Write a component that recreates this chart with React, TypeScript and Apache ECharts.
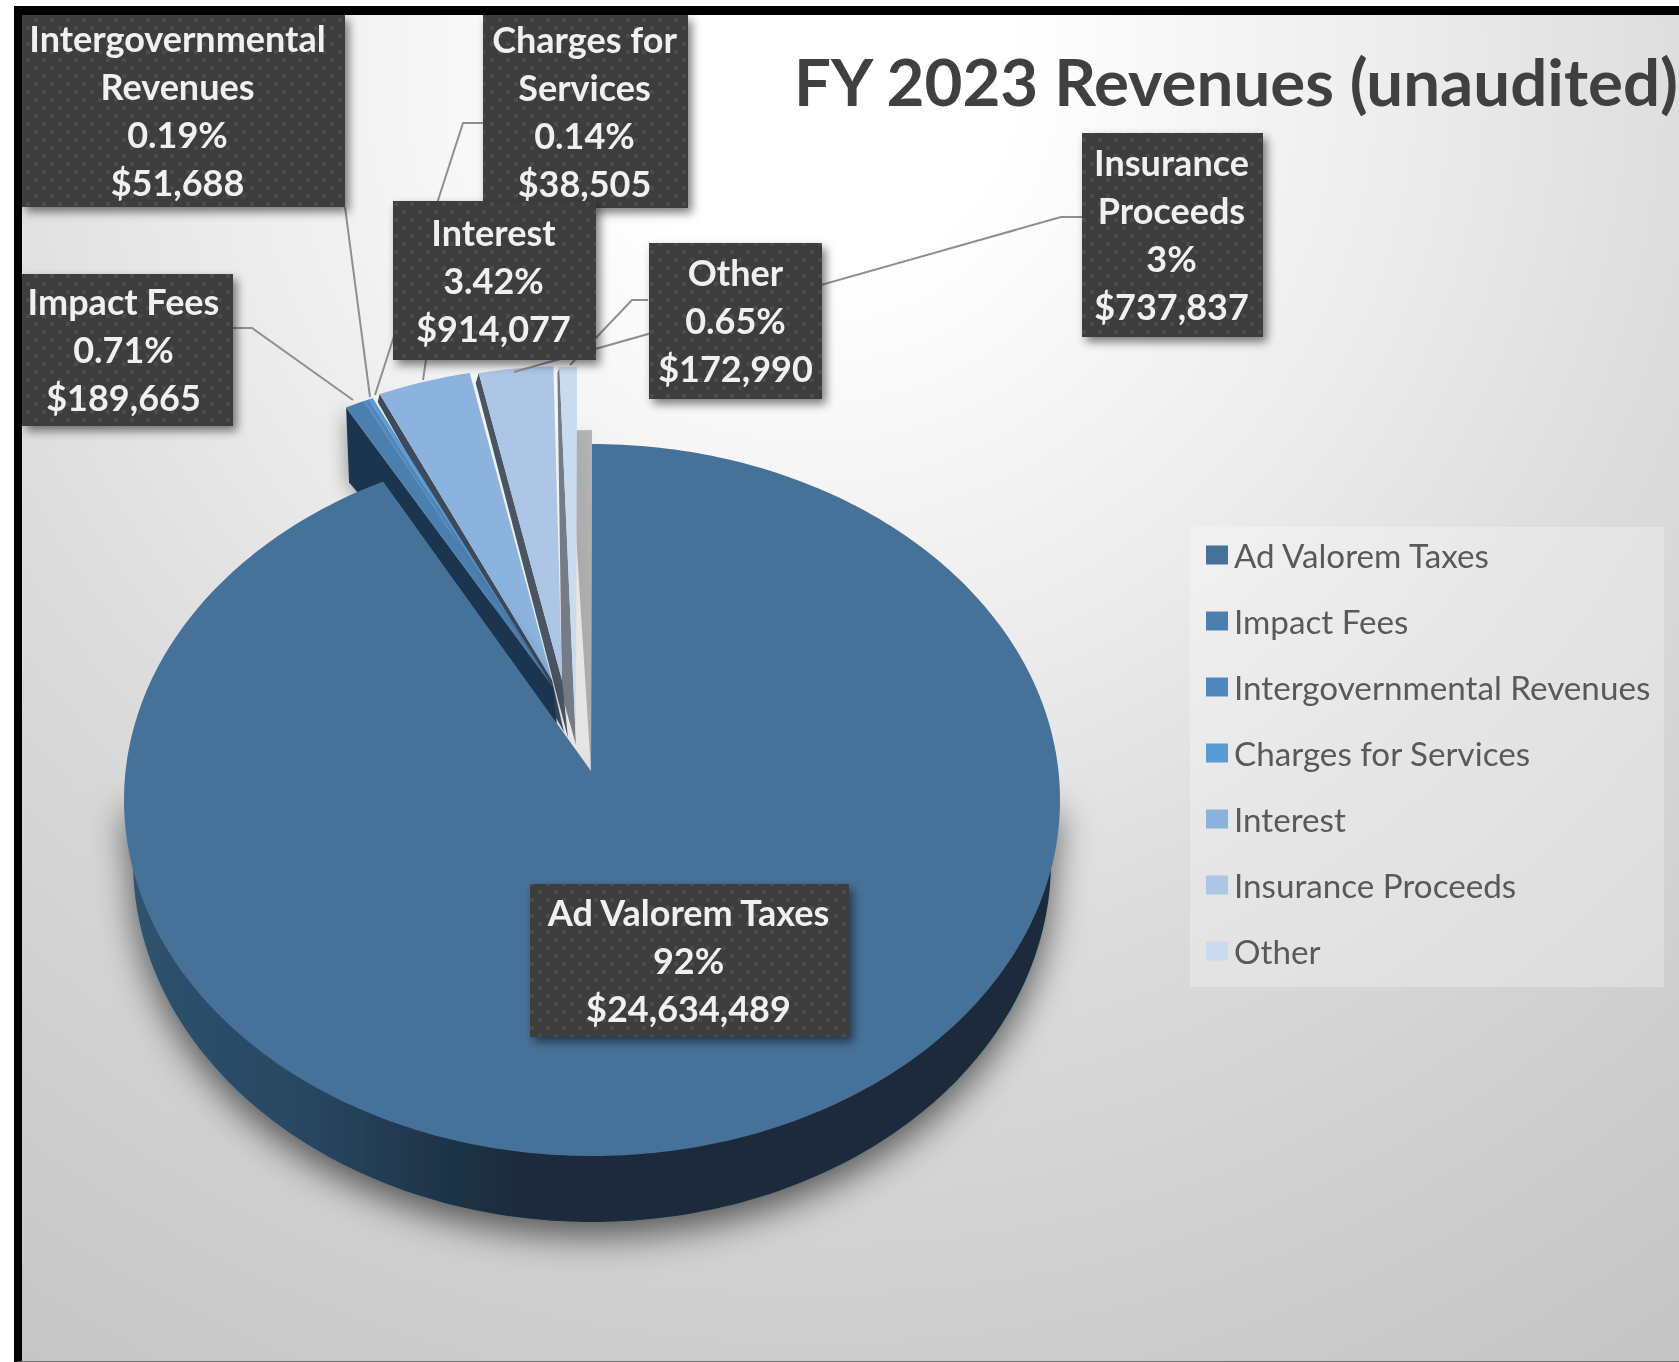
import React, { useEffect, useRef } from "react";
import * as echarts from "echarts";

const TITLE = "FY 2023 Revenues (unaudited)";
const categories = ["Ad Valorem Taxes", "Impact Fees", "Intergovernmental Revenues", "Charges for Services", "Interest", "Insurance Proceeds", "Other"];
const revenueValues = [24634489, 189665, 51688, 38505, 914077, 737837, 172990];
const percentLabels = ["92%", "0.71%", "0.19%", "0.14%", "3.42%", "3%", "0.65%"];
const dollarLabels = ["$24,634,489", "$189,665", "$51,688", "$38,505", "$914,077", "$737,837", "$172,990"];
const wrappedNames = ["Ad Valorem Taxes", "Impact Fees", "Intergovernmental\nRevenues", "Charges for\nServices", "Interest", "Insurance\nProceeds", "Other"];
const sliceColors = ["#467199", "#4b80ae", "#5088bd", "#5b9bd5", "#8bb3dd", "#adc6e6", "#c9dbef"];

// exploded-slice geometry: [rim dx, rim dy, apex x offset, apex y offset from the pie apex]
const explode = [
  [0, 0, 0, 0],
  [-37, -74, -38, -84],
  [-37, -74, -38, -84],
  [-37, -74, -38, -84],
  [-30, -78, -39, -91],
  [-21, -78, -29, -91],
  [-15, -77, -15, -26],
];
const wallColors = ["", "#1f3650", "#1f3650", "#1f3650", "#3d4a5a", "#4a5563", "#757c86"];
const wallDepth = [
  [0, 0, 0, 0],
  [3, 75, 4, 38],
  [0, 0, 0, 0],
  [0, 0, 0, 0],
  [-2, 8, 12, 52],
  [-3, 10, 6, 58],
  [-2, 6, -14, -50],
];

// label boxes: [x, y, w, h]
const labelBoxes = [
  [530, 884, 319, 153],
  [22, 274, 211, 152],
  [22, 15, 323, 192],
  [483, 15, 205, 193],
  [393, 201, 203, 159],
  [1082, 133, 181, 204],
  [649, 243, 173, 156],
];
const labelTextShift = [0, -3, -5, 0, 0, 0, 1];
const leaderLines = [
  [[1082, 217], [1061, 217], [514, 372]],
  [[648, 300], [632, 300], [570, 365]],
  [[483, 123], [463, 123], [375, 395]],
  [[345, 207], [370, 397]],
  [[233, 328], [252, 328], [353, 400]],
  [[426, 360], [423, 380]],
];

const CX = 592, CY = 800, RX = 468, RY = 356, APEX_X = 591, APEX_Y = 771;
const SIDE_CY = 862, SIDE_RX = 459, SIDE_RY = 360;
const K = 0.925;
const TOTAL = revenueValues.reduce((a, b) => a + b, 0);

const toParam = (deg: number) => {
  const r = (deg * Math.PI) / 180;
  let p = Math.atan2(Math.sin(r) * K, Math.cos(r));
  if (p < 0) p += Math.PI * 2;
  return p;
};
const rim = (deg: number, dx = 0, dy = 0): number[] => {
  const p = deg >= 360 ? 0 : toParam(deg);
  return [CX + RX * Math.sin(p) + dx, CY - RY * Math.cos(p) + dy];
};
const starts: number[] = [];
revenueValues.reduce((acc, v, i) => {
  starts[i] = acc;
  return acc + (v / TOTAL) * 360;
}, 0);
const ends = starts.map((s, i) => s + (revenueValues[i] / TOTAL) * 360);

const arc = (a0: number, a1: number, dx: number, dy: number) => {
  const pts: number[][] = [];
  const n = Math.max(2, Math.ceil((a1 - a0) / 1));
  for (let i = 0; i <= n; i++) pts.push(rim(a0 + ((a1 - a0) * i) / n, dx, dy));
  return pts;
};
const facePoints = (i: number) => {
  const [dx, dy, ax, ay] = explode[i];
  return [[APEX_X + ax, APEX_Y + ay], ...arc(starts[i], ends[i], dx, dy)];
};

const renderSlice = (i: number) => () => {
  const [dx, dy, ax, ay] = explode[i];
  const children: any[] = [];
  const [d2x, d2y, d1x, d1y] = wallDepth[i];
  if (wallColors[i] && (d1y || d2y)) {
    const p = rim(starts[i], dx, dy);
    const a = [APEX_X + ax, APEX_Y + ay];
    children.push({
      type: "polygon",
      shape: { points: [p, a, [a[0] + d1x, a[1] + d1y], [p[0] + d2x, p[1] + d2y]] },
      style: i === 1
        ? { fill: wallColors[i], shadowBlur: 18, shadowOffsetX: -2, shadowColor: "rgba(0,0,0,0.35)" }
        : { fill: wallColors[i] },
    });
  }
  children.push({ type: "polygon", shape: { points: facePoints(i) }, style: { fill: sliceColors[i] } });
  return { type: "group", children };
};

const renderBase = () => {
  const side: number[][] = [];
  for (let d = 90; d <= 270; d += 1) {
    const r = (d * Math.PI) / 180;
    side.push([CX + SIDE_RX * Math.sin(r), SIDE_CY - SIDE_RY * Math.cos(r)]);
  }
  side.push([CX - RX, CY], [APEX_X, APEX_Y + 6], [CX + RX, CY]);
  return {
    type: "group",
    children: [
      {
        type: "polygon",
        shape: { points: [[APEX_X, APEX_Y], rim(357, 0, -14), rim(0, 0, -14), rim(0, 0, 0)] },
        style: { fill: "rgba(0,0,0,0.25)", shadowBlur: 14, shadowOffsetX: -4, shadowColor: "rgba(0,0,0,0.2)" },
      },
      {
        type: "polygon",
        shape: { points: side },
        style: {
          fill: new echarts.graphic.LinearGradient(0, 0, 1, 0, [
            { offset: 0, color: "#2e5370" },
            { offset: 0.2, color: "#284660" },
            { offset: 0.34, color: "#1f3449" },
            { offset: 0.42, color: "#1a2c3b" },
            { offset: 1, color: "#1a2c3b" },
          ]),
          shadowBlur: 36,
          shadowOffsetY: 14,
          shadowColor: "rgba(0,0,0,0.6)",
        },
      },
    ],
  };
};

const makeTexture = () => {
  const c = document.createElement("canvas");
  c.width = 16;
  c.height = 16;
  const g = c.getContext("2d")!;
  g.fillStyle = "#3d3d3d";
  g.fillRect(0, 0, 16, 16);
  g.fillStyle = "#4c4c4c";
  [[2, 2], [10, 10]].forEach(([x, y]) => g.fillRect(x, y, 4, 4));
  return c;
};

export default function App() {
  const ref = useRef<HTMLDivElement>(null);
  useEffect(() => {
    const chart = echarts.init(ref.current!, undefined, { renderer: "svg" });
    const texture = makeTexture();
    const drawOrder = [6, 5, 4, 3, 2, 1, 0];
    const graphicEls: any[] = [];
    leaderLines.forEach((pts) =>
      graphicEls.push({
        type: "polyline",
        z: 100,
        shape: { points: pts },
        style: { stroke: "#8f8f8f", lineWidth: 2, fill: "none" },
      })
    );
    const boxOrder = [3, 4, 2, 1, 5, 6, 0];
    boxOrder.forEach((i) => {
      const [x, y, w, h] = labelBoxes[i];
      graphicEls.push({
        type: "rect",
        z: 100,
        shape: { x, y, width: w, height: h },
        style: {
          fill: { image: texture, repeat: "repeat" },
          shadowBlur: 10,
          shadowOffsetX: 4,
          shadowOffsetY: 5,
          shadowColor: "rgba(0,0,0,0.5)",
        },
      });
      graphicEls.push({
        type: "text",
        z: 100,
        x: x + w / 2 - 1 + labelTextShift[i],
        y: y + h / 2 - 1,
        style: {
          text: `${wrappedNames[i]}\n${percentLabels[i]}\n${dollarLabels[i]}`,
          fill: "#f0f0f0",
          font: "bold 36px Lato",
          lineHeight: 48,
          align: "center",
          verticalAlign: "middle",
        },
      });
    });
    chart.setOption({
      animation: false,
      backgroundColor: "transparent",
      title: {
        text: TITLE,
        left: 794,
        top: 42,
        padding: 0,
        textStyle: { color: "#404040", fontFamily: "Lato", fontWeight: "bold", fontSize: 65.4, lineHeight: 76 },
      },
      legend: {
        orient: "vertical",
        left: 1190,
        top: 527,
        padding: [11.5, 14, 19.5, 16],
        backgroundColor: "rgba(255,255,255,0.28)",
        icon: "rect",
        itemWidth: 22,
        itemHeight: 19,
        itemGap: 33,
        data: categories,
        selectedMode: false,
        textStyle: { color: "#595959", fontFamily: "Lato", fontSize: 33.2, padding: [0, 0, 0, 1], lineHeight: 19 },
      },
      tooltip: { show: false },
      graphic: { elements: graphicEls },
      series: [
        { type: "custom", name: "base", coordinateSystem: "none", silent: true, data: [[TOTAL]], renderItem: renderBase },
        ...drawOrder.map((i) => ({
          type: "custom",
          name: categories[i],
          coordinateSystem: "none",
          silent: true,
          itemStyle: { color: sliceColors[i] },
          data: [[revenueValues[i]]],
          renderItem: renderSlice(i),
        })),
      ],
    });
    return () => chart.dispose();
  }, []);
  return (
    <div style={{ position: "absolute", left: 0, top: 0, width: 1679, height: 1362, overflow: "hidden", background: "#fff" }}>
      <div
        style={{
          position: "absolute",
          left: 14,
          top: 6,
          width: 1665,
          height: 1356,
          boxSizing: "border-box",
          borderLeft: "8px solid #000",
          borderTop: "9px solid #000",
          borderBottom: "1px solid #707070",
          background:
            "radial-gradient(circle at 790px 60px, #fff 0, #fff 200px, #ececec 600px, #dcdcdc 900px, #cdcdcd 1290px, #c3c3c3 1600px)",
        }}
      />
      <div ref={ref} style={{ position: "absolute", left: 0, top: 0, width: 1679, height: 1362, filter: "blur(0.6px)" }} />
    </div>
  );
}
